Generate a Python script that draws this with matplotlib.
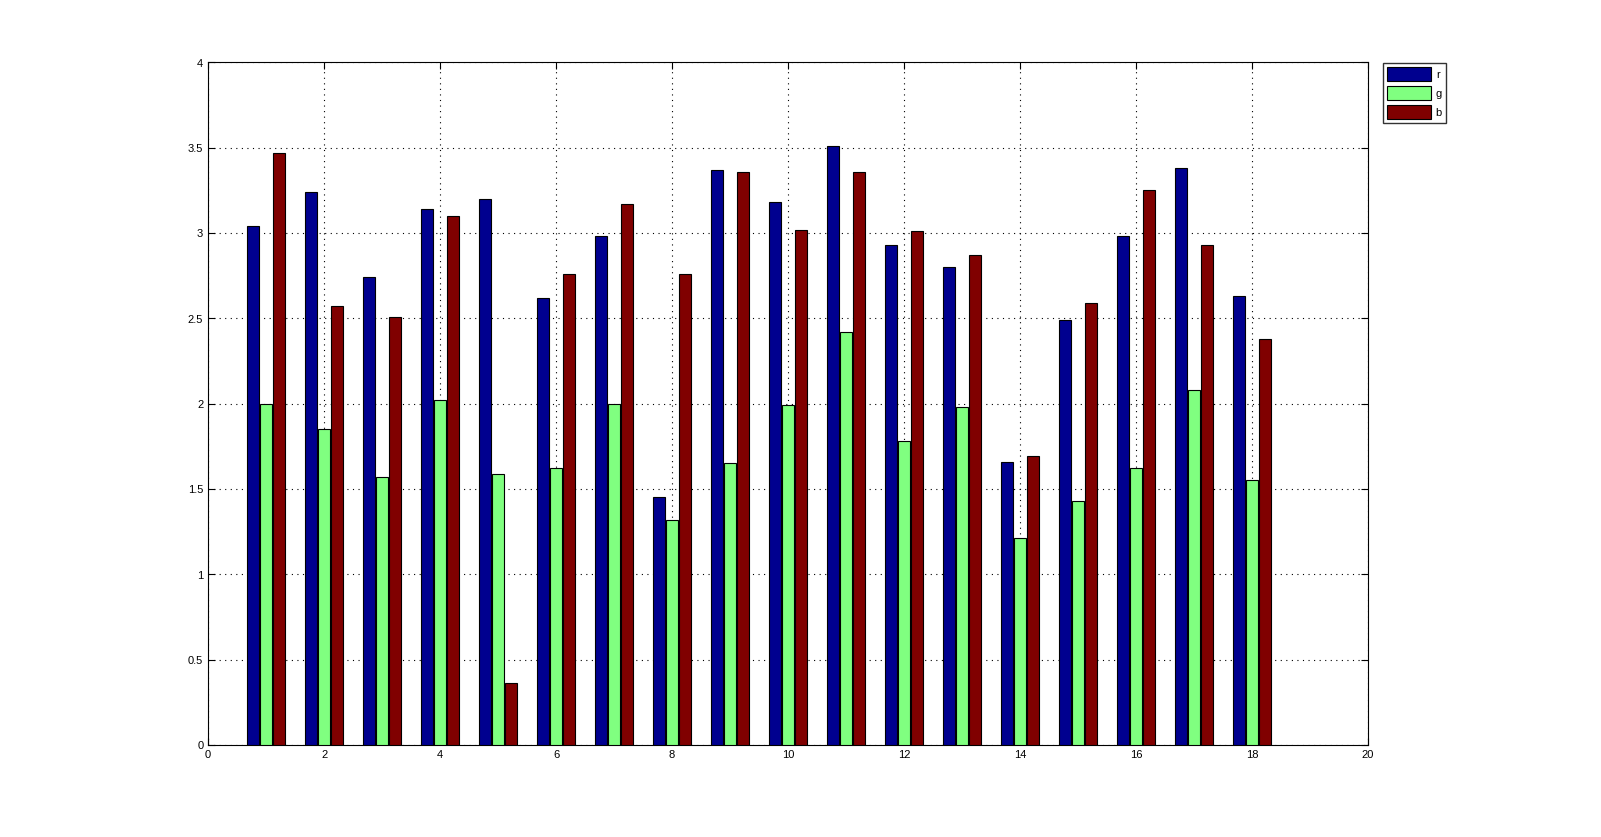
import matplotlib
matplotlib.use("Agg")
import matplotlib.pyplot as plt
import numpy as np

# values
groups = np.arange(1, 19)
r = [3.04, 3.24, 2.74, 3.14, 3.20, 2.62, 2.98, 1.455, 3.37, 3.18, 3.51, 2.93, 2.80, 1.66, 2.49, 2.98, 3.38, 2.63]
g = [2.00, 1.85, 1.57, 2.02, 1.59, 1.62, 2.00, 1.32, 1.65, 1.99, 2.42, 1.78, 1.98, 1.21, 1.43, 1.62, 2.08, 1.55]
b = [3.47, 2.57, 2.51, 3.10, 0.36, 2.76, 3.17, 2.76, 3.36, 3.02, 3.36, 3.01, 2.87, 1.69, 2.59, 3.25, 2.93, 2.38]
names = ["r", "g", "b"]
colors = ["#00008f", "#80ff80", "#800000"]

plt.rcParams['font.family'] = ['Liberation Sans', 'DejaVu Sans']
fig = plt.figure(figsize=(16.01, 8.375), dpi=100)
ax = fig.add_axes([0.13, 0.11, 0.7245, 0.815])

w = 0.195
step = 0.224
for k, vals in enumerate([r, g, b]):
    ax.bar(groups + (k - 1) * step, vals, width=w, color=colors[k],
           edgecolor="black", linewidth=0.8, label=names[k], zorder=3)

ax.set_xlim(0, 20)
ax.set_ylim(0, 4)
ax.set_xticks(np.arange(0, 21, 2))
ax.set_yticks(np.arange(0, 4.01, 0.5))
ax.set_yticklabels(["0", "0.5", "1", "1.5", "2", "2.5", "3", "3.5", "4"])
ax.grid(True, color="black", linestyle=(0, (1, 4)), linewidth=0.8, zorder=0)
ax.tick_params(direction="in", top=True, right=True, labelsize=8, length=5)
for s in ax.spines.values():
    s.set_linewidth(0.8)

fig.legend(loc="upper left", bbox_to_anchor=(1383 / 1601, 1 - 63 / 837),
           fontsize=8, frameon=True, fancybox=False, edgecolor="black",
           handlelength=3.9, handleheight=1.5, handletextpad=0.45,
           labelspacing=0.5, borderpad=0.4, borderaxespad=0)

fig.savefig("out.png", dpi=100)
